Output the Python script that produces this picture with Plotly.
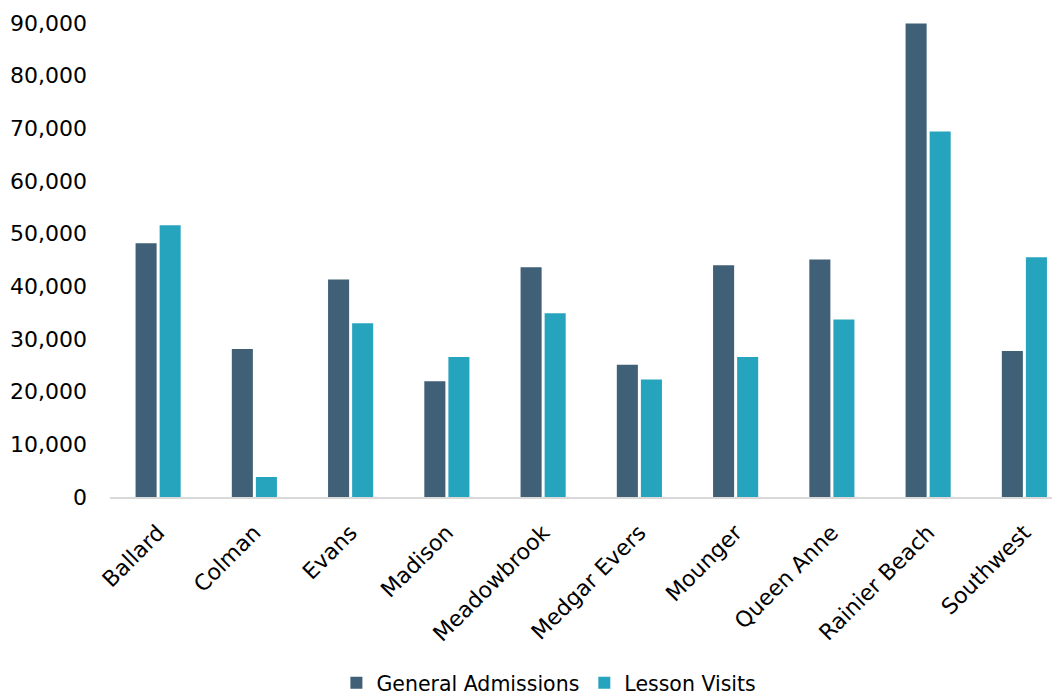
import plotly.graph_objects as go

categories = ["Ballard", "Colman", "Evans", "Madison", "Meadowbrook",
              "Medgar Evers", "Mounger", "Queen Anne", "Rainier Beach", "Southwest"]
general_admissions = [48200, 28100, 41300, 22000, 43600, 25100, 44000, 45100, 89900, 27700]
lesson_visits = [51600, 3800, 33000, 26600, 34900, 22300, 26600, 33700, 69400, 45500]
y_ticks = [0, 10000, 20000, 30000, 40000, 50000, 60000, 70000, 80000, 90000]

FONT = "DejaVu Sans"

fig = go.Figure()
fig.add_trace(go.Bar(name="General Admissions", x=categories, y=general_admissions,
                     marker=dict(color="#3F6076", line=dict(width=0))))
fig.add_trace(go.Bar(name="Lesson Visits", x=categories, y=lesson_visits,
                     marker=dict(color="#27A4BD", line=dict(width=0))))

# the page body adds an 8px offset; margins compensate for it
fig.update_layout(
    width=1060, height=696,
    margin=dict(l=102, r=8, t=15, b=207, autoexpand=False),
    paper_bgcolor="white", plot_bgcolor="white",
    barmode="group", bargap=0.5, bargroupgap=0.125,
    font=dict(family=FONT, color="black", size=22),
    legend=dict(orientation="h", x=0.462, xanchor="center", y=-0.392, yanchor="middle",
                font=dict(family=FONT, size=20.5, color="black"),
                itemwidth=30, traceorder="normal"),
    xaxis=dict(range=[-0.5, 9.37], showline=True, linecolor="#D9D9D9", linewidth=2,
               tickangle=-45, ticks="", showgrid=False, ticklabelstandoff=12,
               automargin=False,
               tickfont=dict(family=FONT, size=22, color="black")),
    yaxis=dict(range=[0, 90000], tickvals=y_ticks, tickformat=",", showgrid=False,
               zeroline=False, showline=False, ticks="", ticklabelstandoff=22,
               automargin=False,
               tickfont=dict(family=FONT, size=22, color="black")),
)

fig.write_html("out.html")
